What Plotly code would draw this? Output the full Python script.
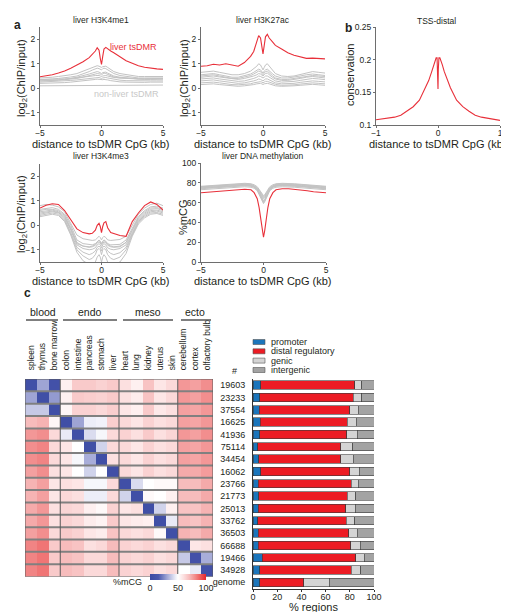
import plotly.graph_objects as go

W, H = 509, 612

# ---------------- data: panel a (x in kb) ----------------
XA = [-5, -4.5, -4, -3.5, -3, -2.5, -2, -1.5, -1, -0.75, -0.5, -0.35, -0.2, -0.1, 0,
      0.1, 0.2, 0.35, 0.5, 0.75, 1, 1.5, 2, 2.5, 3, 3.5, 4, 4.5, 5]

me1_red = [0.47, 0.5, 0.55, 0.62, 0.7, 0.82, 0.95, 1.08, 1.25, 1.38, 1.52, 1.65, 1.55, 1.22, 0.97,
           1.3, 1.6, 1.67, 1.6, 1.52, 1.45, 1.3, 1.12, 1.02, 0.92, 0.86, 0.81, 0.79, 0.77]
me1_g1 = [0.42, 0.42, 0.45, 0.48, 0.5, 0.55, 0.6, 0.7, 0.8, 0.85, 0.9, 0.92, 0.9, 0.88, 0.85,
          0.88, 0.9, 0.9, 0.85, 0.75, 0.68, 0.6, 0.55, 0.5, 0.48, 0.48, 0.47, 0.48, 0.48]
me1_g2 = [0.35, 0.35, 0.38, 0.4, 0.42, 0.46, 0.5, 0.58, 0.68, 0.74, 0.8, 0.82, 0.8, 0.78, 0.75,
          0.8, 0.82, 0.8, 0.76, 0.68, 0.6, 0.52, 0.48, 0.45, 0.42, 0.42, 0.43, 0.42, 0.42]
me1_g3 = [0.3, 0.3, 0.32, 0.33, 0.35, 0.37, 0.4, 0.45, 0.5, 0.55, 0.58, 0.6, 0.6, 0.58, 0.55,
          0.6, 0.62, 0.6, 0.56, 0.5, 0.46, 0.42, 0.4, 0.38, 0.37, 0.36, 0.36, 0.36, 0.37]
me1_g4 = [0.36, 0.36, 0.37, 0.38, 0.38, 0.4, 0.42, 0.45, 0.48, 0.5, 0.52, 0.53, 0.52, 0.5, 0.48,
          0.5, 0.52, 0.52, 0.5, 0.47, 0.44, 0.42, 0.4, 0.4, 0.39, 0.39, 0.4, 0.4, 0.4]
me1_g5 = [0.25, 0.26, 0.27, 0.28, 0.3, 0.32, 0.34, 0.37, 0.4, 0.42, 0.44, 0.45, 0.44, 0.42, 0.4,
          0.42, 0.44, 0.44, 0.42, 0.39, 0.36, 0.33, 0.31, 0.3, 0.3, 0.29, 0.3, 0.3, 0.3]
me1_g6 = [0.2, 0.2, 0.21, 0.22, 0.23, 0.25, 0.27, 0.3, 0.33, 0.35, 0.36, 0.37, 0.36, 0.35, 0.33,
          0.35, 0.36, 0.36, 0.34, 0.31, 0.29, 0.26, 0.25, 0.24, 0.24, 0.24, 0.25, 0.25, 0.25]
me1_g7 = [0.1, 0.1, 0.1, 0.1, 0.1, 0.11, 0.11, 0.12, 0.12, 0.12, 0.13, 0.13, 0.12, 0.12, 0.11,
          0.12, 0.13, 0.13, 0.12, 0.12, 0.12, 0.12, 0.12, 0.12, 0.12, 0.12, 0.12, 0.13, 0.13]
me1_g8 = [0.3, 0.3, 0.32, 0.34, 0.36, 0.4, 0.45, 0.5, 0.58, 0.62, 0.66, 0.68, 0.66, 0.64, 0.6,
          0.64, 0.66, 0.66, 0.62, 0.56, 0.5, 0.45, 0.42, 0.4, 0.38, 0.38, 0.38, 0.38, 0.38]

ac_red = [0.9, 0.92, 0.98, 0.95, 1.0, 0.95, 0.9, 1.05, 1.3, 1.5, 1.85, 2.15, 2.05, 1.7, 1.4,
          1.75, 2.1, 2.2, 2.05, 1.9, 1.75, 1.6, 1.45, 1.35, 1.28, 1.22, 1.23, 1.2, 1.2]
ac_g1 = [0.65, 0.68, 0.7, 0.65, 0.6, 0.55, 0.55, 0.6, 0.7, 0.8, 0.9, 1.0, 0.95, 0.85, 0.75,
         0.85, 0.95, 1.0, 0.9, 0.75, 0.6, 0.5, 0.48, 0.5, 0.55, 0.62, 0.68, 0.65, 0.62]
ac_g2 = [0.55, 0.58, 0.6, 0.55, 0.5, 0.45, 0.45, 0.5, 0.58, 0.65, 0.72, 0.78, 0.75, 0.7, 0.62,
         0.7, 0.75, 0.78, 0.7, 0.6, 0.5, 0.42, 0.42, 0.45, 0.5, 0.55, 0.58, 0.55, 0.52]
ac_g3 = [0.45, 0.48, 0.5, 0.46, 0.42, 0.38, 0.36, 0.4, 0.45, 0.5, 0.55, 0.6, 0.58, 0.55, 0.5,
         0.55, 0.6, 0.62, 0.55, 0.45, 0.38, 0.32, 0.32, 0.35, 0.4, 0.45, 0.48, 0.45, 0.42]
ac_g4 = [0.38, 0.4, 0.42, 0.38, 0.34, 0.3, 0.28, 0.3, 0.35, 0.4, 0.45, 0.5, 0.48, 0.45, 0.42,
         0.45, 0.5, 0.5, 0.45, 0.38, 0.3, 0.25, 0.25, 0.28, 0.32, 0.36, 0.4, 0.38, 0.35]
ac_g5 = [0.3, 0.32, 0.34, 0.3, 0.26, 0.22, 0.2, 0.22, 0.26, 0.3, 0.34, 0.38, 0.36, 0.34, 0.3,
         0.34, 0.38, 0.38, 0.34, 0.28, 0.22, 0.18, 0.18, 0.2, 0.24, 0.28, 0.3, 0.28, 0.26]
ac_g6 = [0.22, 0.24, 0.25, 0.22, 0.18, 0.15, 0.14, 0.15, 0.18, 0.22, 0.25, 0.28, 0.27, 0.25, 0.22,
         0.25, 0.28, 0.28, 0.25, 0.2, 0.16, 0.12, 0.12, 0.14, 0.17, 0.2, 0.22, 0.2, 0.18]
ac_g7 = [0.15, 0.16, 0.18, 0.15, 0.12, 0.1, 0.08, 0.1, 0.12, 0.15, 0.18, 0.2, 0.2, 0.18, 0.15,
         0.18, 0.2, 0.2, 0.18, 0.14, 0.1, 0.08, 0.08, 0.1, 0.12, 0.15, 0.16, 0.14, 0.12]
ac_g8 = [0.5, 0.52, 0.55, 0.5, 0.45, 0.4, 0.4, 0.45, 0.52, 0.58, 0.65, 0.7, 0.68, 0.62, 0.55,
         0.62, 0.68, 0.7, 0.62, 0.52, 0.42, 0.36, 0.36, 0.4, 0.45, 0.5, 0.52, 0.5, 0.48]

me3_red = [0.7, 0.82, 0.88, 0.85, 0.6, 0.2, -0.15, -0.3, -0.35, -0.33, -0.2, 0.0, 0.08, -0.05, -0.3,
           -0.05, 0.1, 0.15, -0.1, -0.3, -0.35, -0.42, -0.45, 0.15, 0.5, 0.8, 0.95, 0.85, 0.62]
me3_g1 = [0.8, 0.85, 0.82, 0.75, 0.55, 0.1, -0.4, -0.55, -0.6, -0.62, -0.6, -0.5, -0.45, -0.5, -0.6,
          -0.5, -0.45, -0.5, -0.6, -0.62, -0.6, -0.58, -0.45, 0.0, 0.45, 0.7, 0.85, 0.9, 0.8]
me3_g2 = [0.65, 0.7, 0.72, 0.65, 0.45, 0.0, -0.6, -0.75, -0.8, -0.8, -0.75, -0.65, -0.6, -0.65, -0.75,
          -0.65, -0.6, -0.65, -0.75, -0.8, -0.8, -0.78, -0.6, -0.1, 0.35, 0.6, 0.75, 0.78, 0.7]
me3_g3 = [0.6, 0.65, 0.65, 0.6, 0.4, -0.1, -0.7, -0.85, -0.9, -0.88, -0.82, -0.72, -0.68, -0.72, -0.82,
          -0.72, -0.68, -0.72, -0.82, -0.88, -0.9, -0.88, -0.7, -0.2, 0.3, 0.55, 0.7, 0.72, 0.65]
me3_g4 = [0.5, 0.55, 0.58, 0.52, 0.3, -0.2, -0.8, -0.95, -1.0, -0.98, -0.92, -0.8, -0.75, -0.8, -0.92,
          -0.8, -0.75, -0.8, -0.92, -0.98, -1.0, -0.95, -0.8, -0.3, 0.2, 0.45, 0.6, 0.62, 0.55]
me3_g5 = [0.45, 0.5, 0.55, 0.5, 0.25, -0.3, -0.9, -1.1, -1.2, -1.15, -1.05, -0.9, -0.85, -0.9, -1.05,
          -0.9, -0.85, -0.9, -1.05, -1.15, -1.2, -1.12, -0.9, -0.35, 0.15, 0.4, 0.55, 0.58, 0.5]
me3_g6 = [0.4, 0.45, 0.5, 0.45, 0.2, -0.35, -1.0, -1.25, -1.4, -1.35, -1.2, -1.0, -0.95, -1.0, -1.2,
          -1.0, -0.95, -1.0, -1.2, -1.35, -1.4, -1.3, -1.0, -0.4, 0.1, 0.35, 0.5, 0.52, 0.45]
me3_g7 = [0.35, 0.4, 0.45, 0.4, 0.15, -0.4, -1.1, -1.45, -1.6, -1.6, -1.5, -1.3, -1.2, -1.3, -1.5,
          -1.3, -1.2, -1.3, -1.5, -1.6, -1.6, -1.5, -1.15, -0.45, 0.05, 0.3, 0.45, 0.48, 0.4]
me3_g8 = [0.55, 0.6, 0.62, 0.55, 0.35, -0.15, -0.75, -0.85, -0.88, -0.85, -0.78, -0.68, -0.62, -0.68, -0.78,
          -0.68, -0.62, -0.68, -0.78, -0.85, -0.88, -0.85, -0.7, -0.2, 0.25, 0.5, 0.65, 0.68, 0.6]

mcg_red = [70, 70.5, 71, 71.5, 72, 72.5, 73, 73.5, 73, 70, 64, 55, 42, 32, 25,
           32, 42, 55, 64, 70, 73, 74, 74, 73.5, 73, 72, 71, 70.5, 70]
mcg_g1 = [76, 76.5, 77, 77.5, 78, 78.5, 79, 79, 78.5, 77, 74, 70, 66, 63, 61,
          63, 66, 70, 74, 77, 78.5, 79, 79, 78.5, 78, 77.5, 77, 76.5, 76]
mcg_g2 = [75, 75.5, 76, 76.5, 77, 77.5, 78, 78, 77.5, 76, 73, 69, 65, 62, 60,
          62, 65, 69, 73, 76, 77.5, 78, 78, 77.5, 77, 76.5, 76, 75.5, 75]
mcg_g3 = [74, 74.5, 75, 75.5, 76, 76.5, 77, 77, 76.5, 75.5, 73, 70, 67, 65, 64,
          65, 67, 70, 73, 75.5, 76.5, 77, 77, 76.5, 76, 75.5, 75, 74.5, 74]
mcg_g4 = [76, 76, 76.5, 77, 77.5, 78, 78.5, 78.5, 78, 77, 75, 72, 69, 67, 66,
          67, 69, 72, 75, 77, 78, 78.5, 78.5, 78, 77.5, 77, 76.5, 76, 75.5]
mcg_g5 = [73, 73.5, 74, 74.5, 75, 75.5, 76, 76, 75.5, 74.5, 72, 68, 64, 61, 59,
          61, 64, 68, 72, 74.5, 75.5, 76, 76, 75.5, 75, 74.5, 74, 73.5, 73]
mcg_g6 = [75, 75, 75.5, 76, 76.5, 77, 77.5, 77.5, 77, 76, 74, 71, 68, 66, 65,
          66, 68, 71, 74, 76, 77, 77.5, 77.5, 77, 76.5, 76, 75.5, 75, 74.5]
mcg_g7 = [74.5, 75, 75.5, 76, 76.5, 77, 77.5, 77.5, 77, 76, 73.5, 70, 66, 63, 62,
          63, 66, 70, 73.5, 76, 77, 77.5, 77.5, 77, 76.5, 76, 75.5, 75, 74.5]
mcg_g8 = [76.5, 77, 77.5, 78, 78.5, 79, 79.5, 79.5, 79, 78, 76, 73, 70, 68, 67,
          68, 70, 73, 76, 78, 79, 79.5, 79.5, 79, 78.5, 78, 77.5, 77, 76.5]

# ---------------- data: panel b ----------------
XB = [-1, -0.9, -0.8, -0.7, -0.6, -0.5, -0.4, -0.3, -0.2, -0.15, -0.1, -0.07, -0.05, -0.03, -0.015,
      -0.005, 0, 0.005, 0.015, 0.03, 0.05, 0.07, 0.1, 0.15, 0.2, 0.3, 0.4, 0.5, 0.6, 0.7, 0.8, 0.9, 1]
cons = [0.108, 0.109, 0.11, 0.112, 0.115, 0.121, 0.128, 0.138, 0.157, 0.168, 0.182, 0.192, 0.198, 0.203, 0.203,
        0.185, 0.155, 0.185, 0.203, 0.203, 0.198, 0.192, 0.182, 0.168, 0.157, 0.138, 0.128, 0.121, 0.115, 0.112,
        0.11, 0.108, 0.107]

# ---------------- data: panel c heatmap ----------------
tissues = ["spleen", "thymus", "bone marrow", "colon", "intestine", "pancreas", "stomach", "liver",
           "heart", "lung", "kidney", "uterus", "skin", "cerebellum", "cortex", "olfactory bulb"]
groups = ["blood", "endo", "meso", "ecto"]
region_counts = ["19603", "23233", "37554", "16625", "41936", "75114", "34454", "16062",
                 "23766", "21773", "25013", "33762", "36503", "66688", "19466", "34928"]
mcg_r01 = [6, 30, 8, 55, 66, 66, 64, 66, 60, 55, 68, 58, 62, 78, 76, 80]
mcg_r02 = [30, 5, 28, 55, 66, 65, 64, 66, 60, 56, 68, 58, 62, 78, 76, 80]
mcg_r03 = [38, 38, 5, 53, 64, 64, 62, 65, 58, 55, 66, 57, 60, 76, 75, 78]
mcg_r04 = [70, 72, 53, 5, 30, 46, 47, 65, 62, 58, 64, 60, 62, 76, 75, 78]
mcg_r05 = [78, 80, 62, 45, 5, 42, 48, 62, 64, 60, 66, 60, 63, 78, 76, 80]
mcg_r06 = [80, 82, 62, 58, 50, 5, 40, 62, 62, 58, 64, 60, 62, 76, 75, 78]
mcg_r07 = [80, 82, 62, 58, 48, 32, 5, 60, 62, 58, 64, 60, 62, 76, 75, 78]
mcg_r08 = [76, 80, 60, 58, 50, 40, 50, 5, 62, 58, 64, 60, 62, 74, 74, 77]
mcg_r09 = [72, 76, 58, 60, 58, 48, 48, 62, 5, 42, 50, 52, 52, 70, 70, 74]
mcg_r10 = [72, 76, 58, 62, 60, 46, 46, 62, 40, 5, 52, 50, 55, 70, 70, 74]
mcg_r11 = [74, 78, 60, 63, 62, 55, 52, 64, 58, 60, 5, 40, 55, 68, 68, 72]
mcg_r12 = [74, 78, 60, 64, 62, 56, 54, 66, 58, 56, 55, 5, 45, 70, 68, 72]
mcg_r13 = [76, 80, 62, 66, 64, 58, 56, 68, 62, 60, 62, 52, 5, 72, 70, 74]
mcg_r14 = [82, 85, 66, 70, 68, 60, 62, 70, 64, 62, 64, 60, 62, 5, 58, 60]
mcg_r15 = [82, 85, 66, 70, 68, 62, 62, 70, 64, 62, 64, 60, 62, 38, 8, 32]
mcg_r16 = [82, 85, 66, 70, 68, 62, 62, 70, 64, 62, 64, 60, 62, 50, 45, 8]

# ---------------- data: panel c stacked bars ----------------
bar_rows = region_counts + ["genome"]
pct_promoter = [6.3, 5.5, 5.0, 6.0, 5.5, 4.0, 4.7, 6.3, 4.4, 4.7, 4.4, 3.9, 4.4, 4.4, 7.7, 5.5, 5.5]
pct_distal = [77.7, 77.5, 75.0, 71.7, 71.9, 68.7, 68.0, 73.7, 76.6, 73.3, 72.2, 73.1, 74.6, 76.3, 77.1, 75.5, 36.5]
pct_genic = [6.0, 7.0, 7.0, 7.7, 8.6, 9.9, 10.3, 8.0, 6.0, 7.0, 8.0, 7.0, 7.0, 8.0, 7.2, 8.0, 21.0]
pct_intergenic = [10.0, 10.0, 13.0, 14.6, 14.0, 17.4, 17.0, 12.0, 13.0, 15.0, 15.4, 16.0, 14.0, 11.3, 8.0, 11.0, 37.0]
bar_categories = ["promoter", "distal regulatory", "genic", "intergenic"]

# ---------------- styling ----------------
FONT = "Liberation Sans, Arial, sans-serif"
RED = "#e8303a"
GREY = "#c3c3c3"
AX = "#6e6e6e"
TXT = "#231f20"
cat_colors = ["#1b75bb", "#ec1c24", "#d4d4d4", "#a3a3a3"]


def dx(a, b):
    return [a / W, b / W]


def dy(top, bottom):
    return [1 - bottom / H, 1 - top / H]


fig = go.Figure()

line_panels = [
    ("x", "y", [me1_g1, me1_g2, me1_g3, me1_g4, me1_g5, me1_g6, me1_g7, me1_g8], me1_red),
    ("x2", "y2", [ac_g1, ac_g2, ac_g3, ac_g4, ac_g5, ac_g6, ac_g7, ac_g8], ac_red),
    ("x4", "y4", [me3_g1, me3_g2, me3_g3, me3_g4, me3_g5, me3_g6, me3_g7, me3_g8], me3_red),
    ("x5", "y5", [mcg_g1, mcg_g2, mcg_g3, mcg_g4, mcg_g5, mcg_g6, mcg_g7, mcg_g8], mcg_red),
]
for xa, ya, greys, red in line_panels:
    for g in greys:
        fig.add_trace(go.Scatter(x=XA, y=g, mode="lines", xaxis=xa, yaxis=ya,
                                 line=dict(color=GREY, width=1), hoverinfo="skip"))
    fig.add_trace(go.Scatter(x=XA, y=red, mode="lines", xaxis=xa, yaxis=ya,
                             line=dict(color=RED, width=1.1)))

fig.add_trace(go.Scatter(x=XB, y=cons, mode="lines", xaxis="x3", yaxis="y3",
                         line=dict(color=RED, width=1.1)))

heat = [mcg_r01, mcg_r02, mcg_r03, mcg_r04, mcg_r05, mcg_r06, mcg_r07, mcg_r08,
        mcg_r09, mcg_r10, mcg_r11, mcg_r12, mcg_r13, mcg_r14, mcg_r15, mcg_r16]
cscale = [[0.0, "#3b4aa3"], [0.15, "#4a58ad"], [0.3, "#9ea4d4"], [0.45, "#e9eaf6"],
          [0.5, "#ffffff"], [0.6, "#fce0e0"], [0.7, "#f7bcbc"], [0.8, "#f28e8e"],
          [0.9, "#ed5c5c"], [1.0, "#e8262e"]]
fig.add_trace(go.Heatmap(
    z=heat, x=list(range(len(tissues))), y=list(range(len(region_counts))),
    xaxis="x6", yaxis="y6", zmin=0, zmax=100, colorscale=cscale,
    colorbar=dict(orientation="h", x=170 / W, xanchor="center", y=1 - 574 / H, yanchor="middle",
                  len=56 / W, lenmode="fraction", thickness=6, outlinewidth=0,
                  tickvals=[0, 50, 100], ticks="", tickfont=dict(size=9, color=TXT, family=FONT),
                  xpad=0, ypad=0)))

for vals, name, col in zip([pct_promoter, pct_distal, pct_genic, pct_intergenic], bar_categories, cat_colors):
    fig.add_trace(go.Bar(x=vals, y=list(range(len(bar_rows))), orientation="h", name=name,
                         xaxis="x7", yaxis="y7", marker=dict(color=col, line=dict(color="#3a3a3a", width=0.6)),
                         width=0.68))

tickfont = dict(size=9, color=TXT, family=FONT)
tickfont_small = dict(size=8.5, color=TXT, family=FONT)


def lax(domain, rng, tv, anchor, standoff=0):
    return dict(domain=domain, range=rng, tickvals=tv, anchor=anchor, showline=True, linecolor=AX,
                linewidth=1, ticks="outside", ticklen=2, tickcolor=AX, tickfont=tickfont_small, showgrid=False,
                zeroline=False, automargin=False, fixedrange=True, ticklabelstandoff=standoff)


layout = dict(
    width=W, height=H, margin=dict(l=0, r=0, t=0, b=0), paper_bgcolor="white", plot_bgcolor="white",
    showlegend=False, barmode="stack", font=dict(family=FONT, color=TXT),
    xaxis=lax(dx(32, 155), [-5, 5], [-5, 0, 5], "y", -2),
    yaxis=lax(dy(19, 117), [-1.5, 2.5], [-1, 0, 1, 2], "x"),
    xaxis2=lax(dx(193, 317), [-5, 5], [-5, 0, 5], "y2", -2),
    yaxis2=lax(dy(19, 117), [-1.5, 2.5], [-1, 0, 1, 2], "x2"),
    xaxis3=lax(dx(368, 492), [-1, 1], [-1, 0, 1], "y3", -2),
    yaxis3=lax(dy(19, 117), [0.1, 0.25], [0.1, 0.15, 0.2, 0.25], "x3"),
    xaxis4=lax(dx(32, 155), [-5, 5], [-5, 0, 5], "y4", -2),
    yaxis4=lax(dy(156, 254), [-1.5, 2.5], [-1, 0, 1, 2], "x4"),
    xaxis5=lax(dx(193, 318), [-5, 5], [-5, 0, 5], "y5", -2),
    yaxis5=lax(dy(155, 254), [0, 100], [0, 20, 40, 60, 80, 100], "x5"),
    xaxis6=dict(domain=dx(17, 205), range=[-0.5, 15.5], side="top", anchor="y6", tickvals=list(range(16)),
                ticktext=tissues, tickangle=-90, ticks="outside", ticklen=6, tickcolor="rgba(0,0,0,0)",
                tickfont=dict(size=8.5, color=TXT, family=FONT), showgrid=False, zeroline=False,
                automargin=False, showline=False),
    yaxis6=dict(domain=dy(371, 568.5), range=[15.5, -0.5], anchor="x6", showticklabels=False, ticks="",
                showgrid=False, zeroline=False, automargin=False),
    xaxis7=dict(domain=dx(245, 366), range=[0, 100], anchor="y7", tickvals=[0, 20, 40, 60, 80, 100],
                showline=True, linecolor="#333", linewidth=1, ticks="outside", ticklen=2, tickcolor="#333",
                tickfont=tickfont, showgrid=False, zeroline=False, automargin=False, ticklabelstandoff=-2),
    yaxis7=dict(domain=dy(371, 580.5), range=[16.5, -0.5], anchor="x7", tickvals=list(range(len(bar_rows))),
                ticktext=bar_rows, showline=True, linecolor="#333", linewidth=1, ticks="outside",
                ticklen=5, tickcolor="rgba(0,0,0,0)", tickfont=tickfont, showgrid=False,
                zeroline=False, automargin=False),
)
fig.update_layout(**layout)

anns = []


def ann(text, x, y, size=9, color=TXT, xanchor="center", yanchor="middle", angle=0, bold=False):
    if bold:
        text = "<b>" + text + "</b>"
    anns.append(dict(text=text, x=x / W, y=1 - y / H, xref="paper", yref="paper", showarrow=False,
                     xanchor=xanchor, yanchor=yanchor, textangle=angle,
                     font=dict(size=size, color=color, family=FONT)))


# panel letters
ann("a", 9, 17, 12, bold=True)
ann("b", 340, 20, 12, bold=True)
ann("c", 19, 285, 12, bold=True)
# panel titles
ann("liver H3K4me1", 93, 12, 8.5)
ann("liver H3K27ac", 255, 12, 8.5)
ann("TSS-distal", 428, 13, 8.5)
ann("liver H3K4me3", 93, 148, 8.5)
ann("liver DNA methylation", 255, 148, 8.5)
# x titles
for cx, cy in [(93, 135.5), (255, 135.5), (430, 135.5), (93, 272.5), (255, 272.5)]:
    ann("distance to tsDMR CpG (kb)", cx, cy, 11)
# y titles
ann("log<sub>2</sub>(ChIP/input)", 14, 70, 11, angle=-90)
ann("log<sub>2</sub>(ChIP/input)", 177, 70, 11, angle=-90)
ann("conservation", 342, 67, 11, angle=-90)
ann("log<sub>2</sub>(ChIP/input)", 14, 206, 11, angle=-90)
ann("%mCG", 175, 210, 11, angle=-90)
# series labels
ann("liver tsDMR", 125, 39, 9, color=RED)
ann("non-liver tsDMR", 118, 86, 9, color="#c8c8c8")
# heatmap group labels
for name, cx in zip(groups, [35, 82, 140, 187]):
    ann(name, cx, 304, 10.5)
ann("%mCG", 136, 574, 9, xanchor="right")
ann("#", 226, 363, 9)
ann("% regions", 305, 599, 11)
# bar legend text
for name, yy in zip(bar_categories, [334, 343.3, 352.6, 362]):
    ann(name, 261, yy, 9, xanchor="left")

shapes = []
# heatmap row separators and group separators
for i in range(len(region_counts) - 1):
    shapes.append(dict(type="line", xref="x6", yref="y6", x0=-0.5, x1=15.5, y0=i + 0.5, y1=i + 0.5,
                       line=dict(color="#808080", width=2)))
for b in [2.5, 7.5, 12.5]:
    shapes.append(dict(type="line", xref="x6", yref="y6", x0=b, x1=b, y0=-0.5, y1=15.5,
                       line=dict(color="#5a5a5a", width=1)))
shapes.append(dict(type="rect", xref="x6", yref="y6", x0=-0.5, x1=15.5, y0=-0.5, y1=15.5,
                   line=dict(color="#5a5a5a", width=1)))
# group underlines
for a, b in [(18, 50), (55, 109), (115, 165), (173, 203)]:
    shapes.append(dict(type="line", xref="paper", yref="paper", x0=a / W, x1=b / W,
                       y0=1 - 312 / H, y1=1 - 312 / H, line=dict(color="#555", width=1.5)))
# bar legend boxes
for col, yy in zip(cat_colors, [334, 343.3, 352.6, 362]):
    shapes.append(dict(type="rect", xref="paper", yref="paper", x0=245 / W, x1=257 / W,
                       y0=1 - (yy + 2.5) / H, y1=1 - (yy - 2.5) / H, fillcolor=col,
                       line=dict(color="#555", width=0.6)))

fig.update_layout(annotations=anns, shapes=shapes)
fig.write_html("out.html")
